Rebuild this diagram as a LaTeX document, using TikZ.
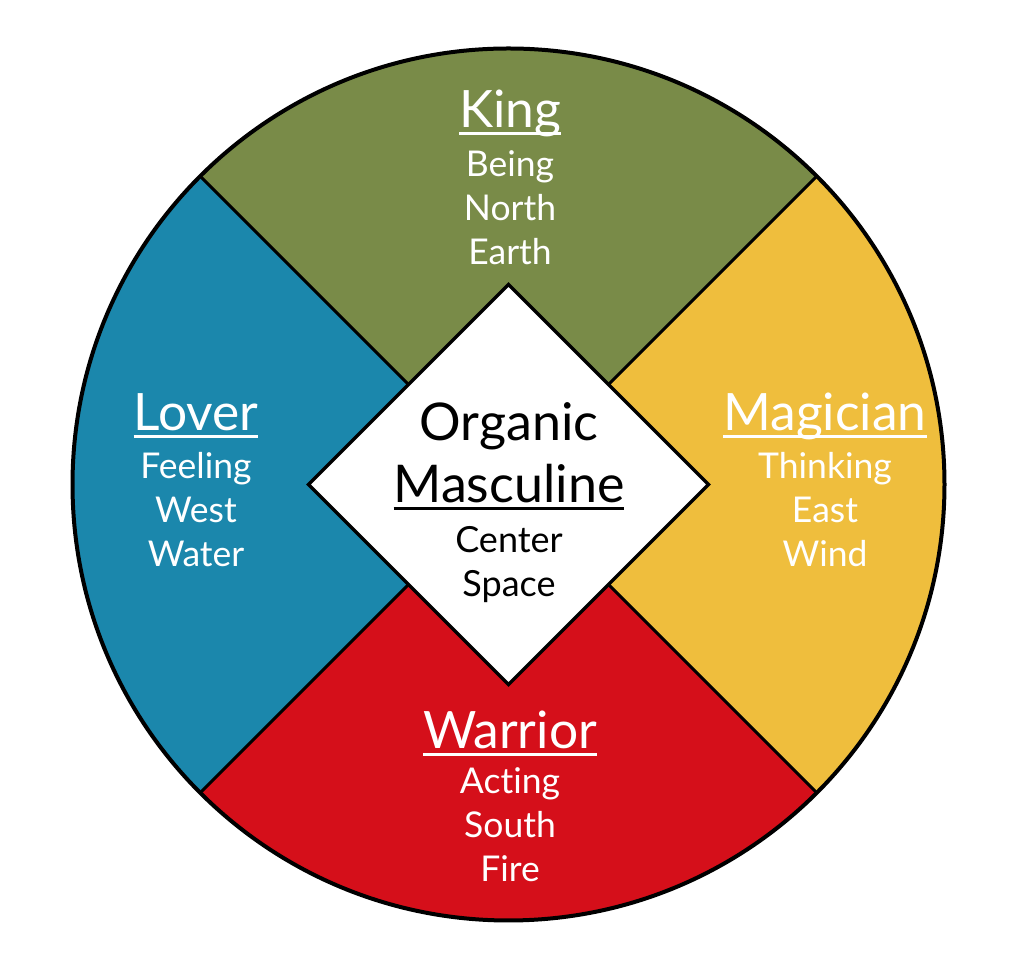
\documentclass[tikz,border=0pt]{standalone}
\usepackage{fontspec}
\setmainfont{Lato}[Ligatures={NoCommon,NoRequired,NoContextual}]
\usetikzlibrary{calc}
\definecolor{kinggreen}{HTML}{798B48}
\definecolor{magyellow}{HTML}{EFBE3D}
\definecolor{warred}{HTML}{D50F1A}
\definecolor{lovblue}{HTML}{1B87AC}
\newcommand\myul[1]{\leavevmode\setbox0\hbox{#1}\rlap{\rule[-7pt]{\wd0}{3pt}}\box0}
\begin{document}
\begin{tikzpicture}[x=1pt,y=1pt,
  title/.style={anchor=base,inner sep=0pt,text=white,font=\fontsize{51.5}{51.5}\selectfont},
  sub/.style={anchor=base,inner sep=0pt,text=white,font=\fontsize{35.5}{35.5}\selectfont},
  ctitle/.style={anchor=base,inner sep=0pt,text=black,font=\fontsize{52}{52}\selectfont},
  csub/.style={anchor=base,inner sep=0pt,text=black,font=\fontsize{36}{36}\selectfont}]
\useasboundingbox (0,0) rectangle (1018,958);
\coordinate (C) at (508.5,473.5);
\def\R{436}
% sectors
\fill[kinggreen] ($(C)+(0,200)$) -- ($(C)+(-100,100)$) -- ($(C)+(135:\R)$) arc[start angle=135,end angle=45,radius=\R] -- ($(C)+(100,100)$) -- cycle;
\fill[magyellow] ($(C)+(200,0)$) -- ($(C)+(100,100)$) -- ($(C)+(45:\R)$) arc[start angle=45,end angle=-45,radius=\R] -- ($(C)+(100,-100)$) -- cycle;
\fill[warred] ($(C)+(0,-200)$) -- ($(C)+(100,-100)$) -- ($(C)+(-45:\R)$) arc[start angle=-45,end angle=-135,radius=\R] -- ($(C)+(-100,-100)$) -- cycle;
\fill[lovblue] ($(C)+(-200,0)$) -- ($(C)+(-100,-100)$) -- ($(C)+(-135:\R)$) arc[start angle=-135,end angle=-225,radius=\R] -- ($(C)+(-100,100)$) -- cycle;
% dividers
\coordinate (m1) at ($(C)+(-100,100)$);
\coordinate (m2) at ($(C)+(100,100)$);
\coordinate (m3) at ($(C)+(100,-100)$);
\coordinate (m4) at ($(C)+(-100,-100)$);
\coordinate (e1) at ($(C)+(135:\R)$);
\coordinate (e2) at ($(C)+(45:\R)$);
\coordinate (e3) at ($(C)+(-45:\R)$);
\coordinate (e4) at ($(C)+(-135:\R)$);
\draw[line width=3pt] (m1) -- (e1) (m2) -- (e2) (m3) -- (e3) (m4) -- (e4);
\draw[line width=4pt] (C) circle[radius=\R];
\draw[line width=3.5pt,fill=white,line join=miter] ($(C)+(0,200)$) -- ($(C)+(200,0)$) -- ($(C)+(0,-200)$) -- ($(C)+(-200,0)$) -- cycle;
% King
\node[title] (king) at (510,830) {\myul{King}};
\node[sub] (being) at (510,781) {Being};
\node[sub] (north) at (510,737) {North};
\node[sub] (earth) at (510,693) {Earth};
% Lover
\node[title] (lover) at (196,527) {\myul{Lover}};
\node[sub] (feeling) at (196,479) {Feeling};
\node[sub] (west) at (196,435) {West};
\node[sub] (water) at (196,391) {Water};
% Magician
\node[title] (magician) at (825,527) {\myul{Magician}};
\node[sub] (thinking) at (825,479) {Thinking};
\node[sub] (east) at (825,435) {East};
\node[sub] (wind) at (825,391) {Wind};
% Warrior
\node[title] (warrior) at (510,209) {\myul{Warrior}};
\node[sub] (acting) at (510,164) {Acting};
\node[sub] (south) at (510,120) {South};
\node[sub] (fire) at (510,76) {Fire};
% Center
\node[ctitle] (organic) at (509,517) {Organic};
\node[ctitle] (masculine) at (509,455) {\myul{Masculine}};
\node[csub] (center) at (509,405) {Center};
\node[csub] (space) at (509,361) {Space};
\end{tikzpicture}
\end{document}
